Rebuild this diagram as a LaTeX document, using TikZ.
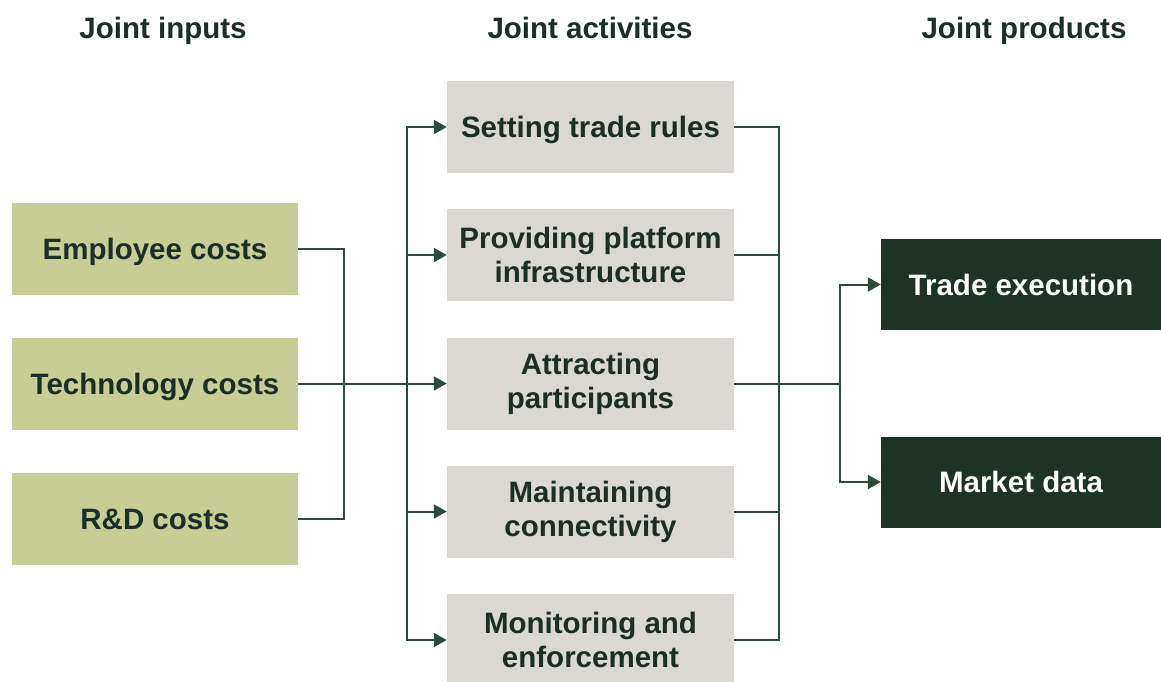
\documentclass[tikz,border=0pt]{standalone}
\usepackage{fontspec}
\setmainfont{Liberation Sans}
\usetikzlibrary{arrows.meta}
\definecolor{inputfill}{HTML}{C8CD96}
\definecolor{actfill}{HTML}{DBD7D3}
\definecolor{prodfill}{HTML}{1C3326}
\definecolor{ink}{HTML}{1C2E25}
\definecolor{wire}{HTML}{2D4A3A}
\begin{document}
\begin{tikzpicture}[x=1pt,y=-1pt,
  every node/.style={font=\fontsize{29.5}{34}\selectfont\bfseries, text=ink, align=center, inner sep=0pt},
  oneline/.style={text height=26pt, text depth=5pt},
  inbox/.style={fill=inputfill, minimum width=286pt, minimum height=92pt},
  actbox/.style={fill=actfill, minimum width=287pt, minimum height=92pt},
  prodbox/.style={fill=prodfill, text=white, minimum width=280pt, minimum height=91pt},
  header/.style={anchor=base},
  wireline/.style={draw=wire, line width=2pt},
  arr/.style={wireline, -{Triangle[length=13pt,width=14pt]}}]
\useasboundingbox (0,0) rectangle (1161,681);

% column headers
\node[header] (hin)  at (163,38) {Joint inputs};
\node[header] (hact) at (590,38) {Joint activities};
\node[header] (hout) at (1024,38) {Joint products};

% joint inputs
\node[inbox, oneline] (emp)  at (155,248.5) {Employee costs};
\node[inbox, oneline] (tech) at (155,383.5) {Technology costs};
\node[inbox, oneline] (rd)   at (155,519) {R\&D costs};

% joint activities
\node[actbox, oneline] (rules) at (590.5,127)   {Setting trade rules};
\node[actbox] (infra) at (590.5,255)   {Providing platform\\infrastructure};
\node[actbox] (attr)  at (590.5,383.5) {Attracting\\participants};
\node[actbox] (conn)  at (590.5,511.5) {Maintaining\\connectivity};
\node[actbox] (mon)   at (590.5,640)   {Monitoring and\\enforcement};

% joint products
\node[prodbox, oneline] (trade)  at (1021,284.5) {Trade execution};
\node[prodbox, oneline] (market) at (1021,482)   {Market data};

% inputs bracket and feed into activities
\coordinate (lbus) at (344,383.5);
\coordinate (split) at (407,383.5);
\draw[wireline] (emp.east) -| (lbus) |- (rd.east);
\draw[arr] (tech.east) -- (attr.west);
\draw[arr] (split) |- (rules.west);
\draw[arr] (split) |- (infra.west);
\draw[arr] (split) |- (conn.west);
\draw[arr] (split) |- (mon.west);

% activities collected into products
\coordinate (rbus) at (779,383.5);
\coordinate (join) at (840,383.5);
\draw[wireline] (rules.east) -| (rbus);
\draw[wireline] (infra.east) -| (rbus);
\draw[wireline] (conn.east) -| (rbus);
\draw[wireline] (mon.east) -| (rbus);
\draw[wireline] (attr.east) -- (join);
\draw[arr] (join) |- (trade.west);
\draw[arr] (join) |- (market.west);
\end{tikzpicture}
\end{document}
